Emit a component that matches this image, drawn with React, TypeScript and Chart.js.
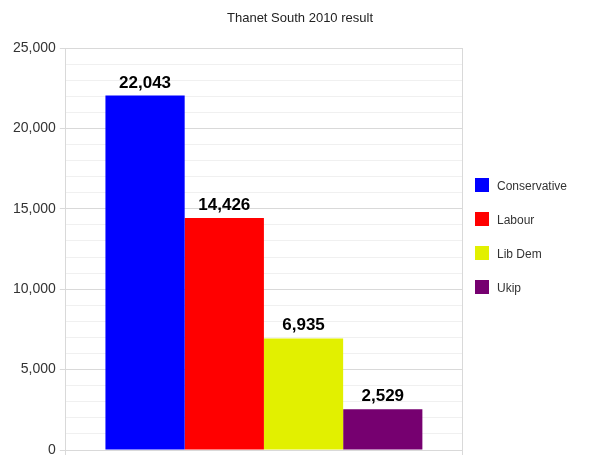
import React, { useEffect, useRef } from "react";
import { Chart, registerables } from "chart.js";

Chart.register(...registerables);

const categories = [""];
const seriesNames = ["Conservative", "Labour", "Lib Dem", "Ukip"];
const seriesValues = [22043, 14426, 6935, 2529];
const seriesColors = ["#0000ff", "#ff0000", "#e2f000", "#760070"];
const titleText = "Thanet South 2010 result";

const FONT = "'Liberation Sans', Arial, sans-serif";

const valueLabels = {
  id: "valueLabels",
  afterDatasetsDraw(chart: any) {
    const ctx = chart.ctx;
    ctx.save();
    ctx.font = `bold 17px ${FONT}`;
    ctx.fillStyle = "#000";
    ctx.textAlign = "center";
    ctx.textBaseline = "alphabetic";
    chart.data.datasets.forEach((ds: any, i: number) => {
      const meta = chart.getDatasetMeta(i);
      meta.data.forEach((el: any, j: number) => {
        const v = ds.data[j];
        ctx.fillText(v.toLocaleString("en-US"), el.x, el.y - 8);
      });
    });
    ctx.restore();
  },
};

const sideLegendAndTitle = {
  id: "sideLegendAndTitle",
  afterDraw(chart: any) {
    const ctx = chart.ctx;
    const area = chart.chartArea;
    ctx.save();
    ctx.font = `13px ${FONT}`;
    ctx.fillStyle = "#222";
    ctx.textAlign = "center";
    ctx.textBaseline = "middle";
    ctx.fillText(titleText, chart.width / 2, 18);

    ctx.font = `12px ${FONT}`;
    ctx.textBaseline = "middle";
    ctx.textAlign = "left";
    chart.data.datasets.forEach((ds: any, i: number) => {
      const cy = area.top + 137 + i * 34;
      ctx.fillStyle = ds.backgroundColor;
      ctx.fillRect(area.right + 13, cy - 7, 14, 14);
      ctx.fillStyle = "#333";
      ctx.fillText(ds.label, area.right + 35, cy + 2);
    });
    ctx.restore();
  },
};

export default function App() {
  const ref = useRef<HTMLCanvasElement>(null);
  useEffect(() => {
    if (!ref.current) return;
    const chart = new Chart(ref.current, {
      type: "bar",
      data: {
        labels: categories,
        datasets: seriesNames.map((name, i) => ({
          label: name,
          data: [seriesValues[i]],
          backgroundColor: seriesColors[i],
          borderWidth: 0,
          categoryPercentage: 0.8,
          barPercentage: 1.0,
        })),
      },
      options: {
        responsive: false,
        animation: false,
        layout: { padding: { left: 9, right: 138, bottom: 8, top: 48 } },
        plugins: {
          legend: { display: false },
          tooltip: { enabled: false },
          title: { display: false },
        },
        scales: {
          x: {
            grid: {
              color: "#d9d9d9",
              tickColor: "#d9d9d9",
              tickLength: 5,
              offset: true,
            },
            border: { color: "#d9d9d9" },
            ticks: { display: false },
          },
          y: {
            min: 0,
            max: 25000,
            grid: {
              color: (c: any) => (c.tick && c.tick.value % 5000 === 0 ? "#d9d9d9" : "#f0f0f0"),
              tickColor: (c: any) => (c.tick && c.tick.value % 5000 === 0 ? "#d9d9d9" : "rgba(0,0,0,0)"),
              tickLength: 6,
            },
            border: { color: "#d9d9d9" },
            ticks: {
              stepSize: 1000,
              autoSkip: false,
              padding: 4,
              color: "#333",
              font: { family: FONT, size: 14 },
              callback: (v: any) => (Number(v) % 5000 === 0 ? Number(v).toLocaleString("en-US") : ""),
            },
          },
        },
      },
      plugins: [valueLabels, sideLegendAndTitle],
    });
    return () => chart.destroy();
  }, []);
  return (
    <div style={{ position: "absolute", left: 0, top: 0, width: 600, height: 463, background: "#fff" }}>
      <canvas ref={ref} width={600} height={463} />
    </div>
  );
}
